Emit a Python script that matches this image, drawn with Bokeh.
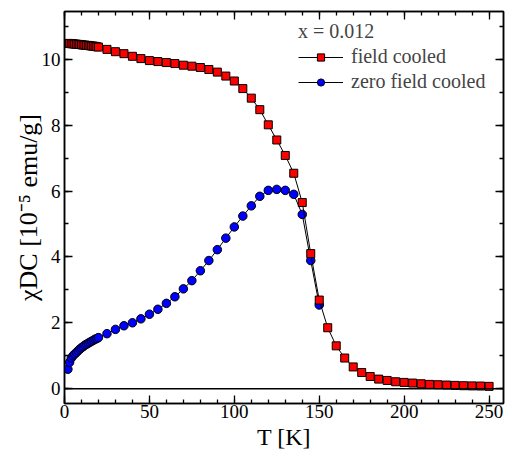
from bokeh.plotting import figure
from bokeh.models import (Range1d, SingleIntervalTicker, LinearAxis, Span,
                          Legend, LegendItem)
from bokeh.embed import file_html
from bokeh.resources import INLINE

# ---- data ----
T_fc = [2, 3, 4, 5, 6, 7, 8, 9, 10, 11, 12, 13, 14, 15, 16, 17, 18, 19, 20,
        25, 30, 35, 40, 45, 50, 55, 60, 65, 70, 75, 80, 85, 90, 95, 100, 105,
        110, 115, 120, 125, 130, 135, 140, 145, 150, 155, 160, 165, 170, 175,
        180, 185, 190, 195, 200, 205, 210, 215, 220, 225, 230, 235, 240, 245, 250]
chi_fc = [10.48, 10.48, 10.47, 10.47, 10.46, 10.46, 10.45, 10.45, 10.44, 10.43,
          10.43, 10.42, 10.42, 10.41, 10.40, 10.40, 10.39, 10.38, 10.37,
          10.30, 10.23, 10.17, 10.09, 10.02, 9.96, 9.93, 9.90, 9.87, 9.82, 9.79,
          9.75, 9.69, 9.61, 9.49, 9.34, 9.11, 8.82, 8.47, 8.01, 7.55, 7.08, 6.54,
          5.65, 4.10, 2.69, 1.85, 1.30, 0.93, 0.66, 0.49, 0.37, 0.29, 0.25, 0.21,
          0.19, 0.17, 0.15, 0.13, 0.12, 0.11, 0.10, 0.09, 0.085, 0.08, 0.07]

T_zfc = [2, 3, 4, 5, 6, 7, 8, 9, 10, 11, 12, 13, 14, 15, 16, 17, 18, 19, 20,
         25, 30, 35, 40, 45, 50, 55, 60, 65, 70, 75, 80, 85, 90, 95, 100, 105,
         110, 115, 120, 125, 130, 135, 140, 145, 150]
chi_zfc = [0.59, 0.80, 0.93, 1.00, 1.05, 1.10, 1.15, 1.20, 1.24, 1.28, 1.32,
           1.35, 1.38, 1.41, 1.44, 1.47, 1.50, 1.52, 1.55,
           1.67, 1.80, 1.91, 2.00, 2.12, 2.26, 2.41, 2.59, 2.79, 3.03, 3.28,
           3.58, 3.89, 4.22, 4.57, 4.91, 5.24, 5.55, 5.84, 6.02, 6.05, 6.02,
           5.90, 5.29, 3.89, 2.54]

legend_title = "x = 0.012"
labels = ["field cooled", "zero field cooled"]
x_title = "T [K]"
y_title = "χDC [10⁻⁵ emu/g]"

FONT = "Liberation Serif"

X0, X1 = 0, 258.5
Y0, Y1 = -0.45, 11.45
W, H = 507, 452
BL, BR, BT, BB = 64, 4, 11, 48

p = figure(width=W, height=H, output_backend="svg", toolbar_location=None,
           x_range=Range1d(X0, X1), y_range=Range1d(Y0, Y1),
           min_border_left=BL, min_border_right=BR, min_border_top=BT,
           min_border_bottom=BB)
p.outline_line_color = "black"
p.outline_line_width = 1.5
p.xgrid.visible = False
p.ygrid.visible = False
p.background_fill_color = "white"
p.border_fill_color = "white"

def style_axis(ax, show_labels=True):
    ax.axis_line_width = 1.5
    ax.axis_line_color = "black"
    ax.major_tick_in = 8
    ax.major_tick_out = 0
    ax.minor_tick_in = 4
    ax.minor_tick_out = 0
    ax.major_tick_line_width = 1.3
    ax.minor_tick_line_width = 1.3
    ax.major_tick_line_color = "black"
    ax.minor_tick_line_color = "black"
    ax.major_label_text_font = FONT
    if show_labels:
        ax.major_label_text_font_size = "19px"
        ax.major_label_text_color = "black"
    else:
        ax.major_label_text_font_size = "1px"
        ax.major_label_text_color = None
        ax.major_label_standoff = 0

xt = SingleIntervalTicker(interval=50, num_minor_ticks=5)
yt = SingleIntervalTicker(interval=2, num_minor_ticks=2)

p.xaxis.ticker = xt
p.yaxis.ticker = yt
style_axis(p.xaxis[0])
style_axis(p.yaxis[0])
p.xaxis.major_label_standoff = 1
p.yaxis.major_label_standoff = 4

p.xaxis.axis_label = x_title
p.xaxis.axis_label_text_font = FONT
p.xaxis.axis_label_text_font_size = "24px"
p.xaxis.axis_label_text_font_style = "normal"
p.xaxis.axis_label_text_color = "black"
p.xaxis.axis_label_standoff = 3

p.yaxis.axis_label = y_title
p.yaxis.axis_label_text_font = FONT
p.yaxis.axis_label_text_font_size = "26px"
p.yaxis.axis_label_text_font_style = "normal"
p.yaxis.axis_label_text_color = "black"
p.yaxis.axis_label_standoff = -4

top_ax = LinearAxis(ticker=xt)
style_axis(top_ax, show_labels=False)
p.add_layout(top_ax, "above")
right_ax = LinearAxis(ticker=yt)
style_axis(right_ax, show_labels=False)
p.add_layout(right_ax, "right")

p.add_layout(Span(location=0, dimension="width", line_color="black", line_width=1.5))

# ZFC first, then FC on top
l2 = p.line(T_zfc, chi_zfc, line_color="black", line_width=1)
s2 = p.scatter(T_zfc, chi_zfc, marker="circle", size=8.5, fill_color="#0000ff",
               line_color="black", line_width=1)
l1 = p.line(T_fc, chi_fc, line_color="black", line_width=1)
s1 = p.scatter(T_fc, chi_fc, marker="square", size=8, fill_color="#ff0000",
               line_color="black", line_width=1)

legend = Legend(items=[LegendItem(label=labels[0], renderers=[l1, s1]),
                       LegendItem(label=labels[1], renderers=[l2, s2])],
                location=(234, 310), title=legend_title,
                title_text_font=FONT, title_text_font_size="20px",
                title_text_font_style="normal", title_standoff=2,
                label_text_font=FONT, label_text_font_size="20px",
                glyph_width=45, glyph_height=18, label_height=18,
                label_standoff=8, spacing=2, padding=0, margin=0,
                border_line_color=None, background_fill_alpha=0)
p.add_layout(legend)

open("out.html", "w").write(file_html(p, INLINE))
